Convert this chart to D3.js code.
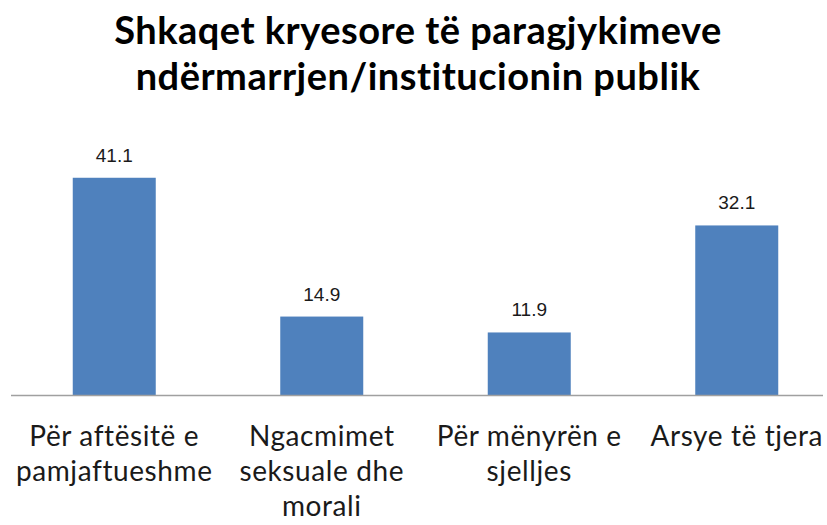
<!DOCTYPE html>
<html>
<head>
<meta charset="utf-8">
<script src="https://cdn.jsdelivr.net/npm/d3@7"></script>
<style>
  body { margin: 0; background: #fff; }
  svg { display: block; }
</style>
</head>
<body>
<div class="container"></div>
<script>
// data
const categories = [
  ["Për aftësitë e", "pamjaftueshme"],
  ["Ngacmimet", "seksuale dhe", "morali"],
  ["Për mënyrën e", "sjelljes"],
  ["Arsye të tjera"]
];
const values = [41.1, 14.9, 11.9, 32.1];
const titleLines = ["Shkaqet kryesore të paragjykimeve", "ndërmarrjen/institucionin publik"];

const width = 827, height = 525;
const baseY = 395.5;

const svg = d3.select(".container").append("svg")
  .attr("width", width).attr("height", height);

const xScale = d3.scaleBand()
  .domain(d3.range(values.length))
  .range([10.5, 840.5])
  .paddingInner(0.6)
  .paddingOuter(0.3);

const yScale = d3.scaleLinear()
  .domain([0, 45])
  .range([baseY, baseY - 238.4]);

// title
const title = svg.append("text")
  .attr("text-anchor", "middle")
  .style("font-family", "Lato, 'Open Sans', sans-serif")
  .style("font-weight", "bold")
  .style("font-size", "38px")
  .style("letter-spacing", "0.5px")
  .attr("fill", "#000");
title.selectAll("tspan")
  .data(titleLines)
  .enter()
  .append("tspan")
  .attr("x", 418)
  .attr("y", (d, i) => 44 + i * 46)
  .text(d => d);

// bars
svg.selectAll("rect.bar")
  .data(values)
  .enter()
  .append("rect")
  .attr("class", "bar")
  .attr("x", (d, i) => xScale(i))
  .attr("y", d => yScale(d))
  .attr("width", xScale.bandwidth())
  .attr("height", d => yScale(0) - yScale(d))
  .attr("fill", "#4f81bd");

// value labels
svg.selectAll("text.val")
  .data(values)
  .enter()
  .append("text")
  .attr("class", "val")
  .attr("x", (d, i) => xScale(i) + xScale.bandwidth() / 2)
  .attr("y", d => yScale(d) - 16)
  .attr("text-anchor", "middle")
  .style("font-family", "'Liberation Sans', Arial, sans-serif")
  .style("font-size", "19px")
  .attr("fill", "#1a1a1a")
  .text(d => d.toFixed(1));

// axis line
svg.append("line")
  .attr("x1", 11).attr("x2", 823)
  .attr("y1", baseY).attr("y2", baseY)
  .attr("stroke", "#a0a0a0")
  .attr("stroke-width", 1.5);

// category labels
const cat = svg.selectAll("text.cat")
  .data(categories)
  .enter()
  .append("text")
  .attr("class", "cat")
  .attr("text-anchor", "middle")
  .style("font-family", "Lato, 'Open Sans', sans-serif")
  .style("font-size", "28px")
  .style("letter-spacing", "0.6px")
  .attr("fill", "#1a1a1a");
cat.each(function (lines, i) {
  d3.select(this).selectAll("tspan")
    .data(lines)
    .enter()
    .append("tspan")
    .attr("x", xScale(i) + xScale.bandwidth() / 2)
    .attr("y", (d, j) => 446 + j * 35)
    .text(d => d);
});
</script>
</body>
</html>
